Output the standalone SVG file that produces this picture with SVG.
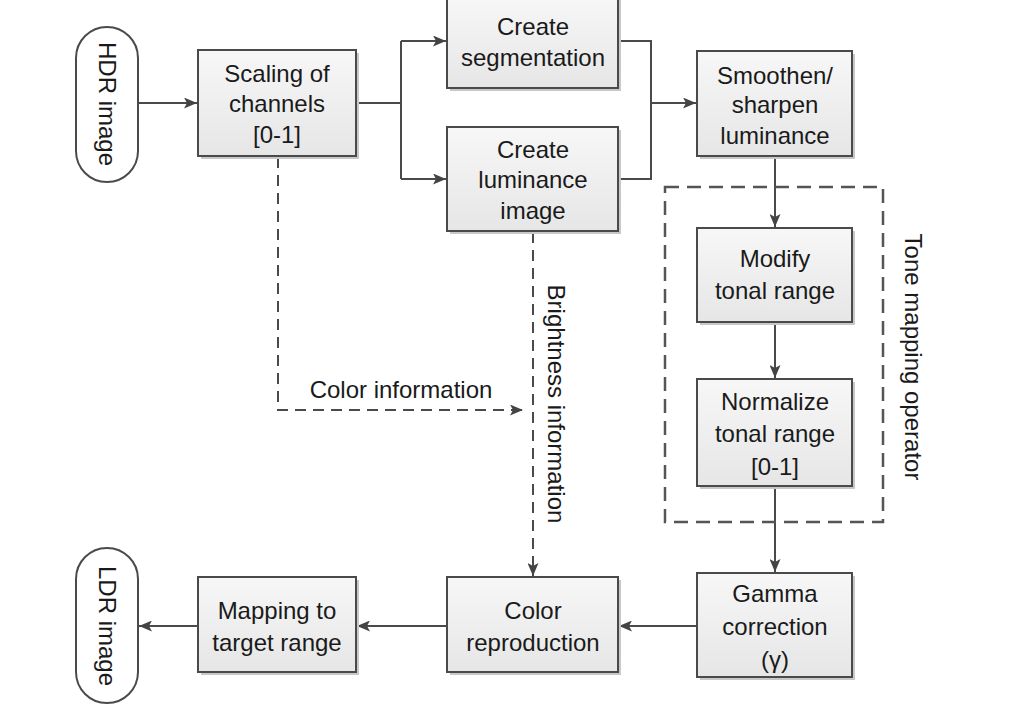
<svg xmlns="http://www.w3.org/2000/svg" width="1024" height="725" viewBox="0 0 1024 725">
<style>
.box{fill:url(#g);stroke:#4a4a4a;stroke-width:2}
.sh{fill:#c8c8c8}
.t{font-family:"Liberation Sans",Arial,sans-serif;font-size:24px;fill:#1a1a1a;text-anchor:middle;dominant-baseline:central}
.ln{fill:none;stroke:#4a4a4a;stroke-width:2}
.ds{fill:none;stroke:#4a4a4a;stroke-width:2;stroke-dasharray:11 7}
.dsb{fill:none;stroke:#555;stroke-width:2.5;stroke-dasharray:14 8}
</style>
<defs>
<linearGradient id="g" x1="0" y1="0" x2="0" y2="1">
<stop offset="0" stop-color="#f7f7f7"/>
<stop offset="1" stop-color="#e6e6e6"/>
</linearGradient>
<marker id="a" viewBox="0 0 13 11" refX="13" refY="5.5" markerWidth="13" markerHeight="11" markerUnits="userSpaceOnUse" orient="auto">
<path d="M0,0 L13,5.5 L0,11 L3,5.5 z" fill="#444"/>
</marker>
</defs>
<rect width="1024" height="725" fill="#fff"/>
<g id="connectors">
<path class="ln" d="M138,103 H197" marker-end="url(#a)"/>
<path class="ln" d="M356,103 H401 M401,41 V179"/>
<path class="ln" d="M401,41 H446" marker-end="url(#a)"/>
<path class="ln" d="M401,179 H446" marker-end="url(#a)"/>
<path class="ln" d="M618,41 H651 V179 H618 M651,103 H696"/>
<path class="ln" d="M651,103 H696" marker-end="url(#a)"/>
<path class="ln" d="M775,156 V227" marker-end="url(#a)"/>
<path class="ln" d="M775,322 V378" marker-end="url(#a)"/>
<path class="ln" d="M775,486 V572" marker-end="url(#a)"/>
<path class="ln" d="M697,626 H619" marker-end="url(#a)"/>
<path class="ln" d="M447,626 H357" marker-end="url(#a)"/>
<path class="ln" d="M198,626 H139" marker-end="url(#a)"/>
<path class="ds" d="M278,157 V410 H523" marker-end="url(#a)"/>
<path class="ds" d="M533,232 V576" marker-end="url(#a)"/>
</g>
<g id="tone-mapping-group">
<rect class="dsb" x="665" y="187" width="218" height="335"/>
<text class="t" transform="translate(913,357) rotate(90)">Tone mapping operator</text>
</g>
<g id="hdr">
<rect x="76" y="27" width="62" height="155" rx="31" fill="#fff" stroke="#4a4a4a" stroke-width="2"/>
<text class="t" transform="translate(107,104) rotate(90)">HDR image</text>
</g>
<g id="scaling">
<rect class="sh" x="201" y="53" width="158" height="106"/>
<rect class="box" x="198" y="50" width="158" height="106"/>
<text class="t" x="277" y="73">Scaling of</text>
<text class="t" x="277" y="103">channels</text>
<text class="t" x="277" y="134">[0-1]</text>
</g>
<g id="segmentation">
<rect class="sh" x="450" y="-1" width="171" height="92"/>
<rect class="box" x="447" y="-4" width="171" height="92"/>
<text class="t" x="533" y="26">Create</text>
<text class="t" x="533" y="57">segmentation</text>
</g>
<g id="luminance">
<rect class="sh" x="450" y="130" width="171" height="104"/>
<rect class="box" x="447" y="127" width="171" height="104"/>
<text class="t" x="533" y="149">Create</text>
<text class="t" x="533" y="179">luminance</text>
<text class="t" x="533" y="210">image</text>
</g>
<g id="smoothen">
<rect class="sh" x="700" y="54" width="155" height="105"/>
<rect class="box" x="697" y="51" width="155" height="105"/>
<text class="t" x="775" y="75">Smoothen/</text>
<text class="t" x="775" y="104">sharpen</text>
<text class="t" x="775" y="135">luminance</text>
</g>
<g id="modify">
<rect class="sh" x="700" y="231" width="155" height="94"/>
<rect class="box" x="697" y="228" width="155" height="94"/>
<text class="t" x="775" y="258">Modify</text>
<text class="t" x="775" y="290">tonal range</text>
</g>
<g id="normalize">
<rect class="sh" x="700" y="382" width="155" height="107"/>
<rect class="box" x="697" y="379" width="155" height="107"/>
<text class="t" x="775" y="401">Normalize</text>
<text class="t" x="775" y="433">tonal range</text>
<text class="t" x="775" y="466">[0-1]</text>
</g>
<g id="gamma">
<rect class="sh" x="700" y="576" width="155" height="104"/>
<rect class="box" x="697" y="573" width="155" height="104"/>
<text class="t" x="775" y="593">Gamma</text>
<text class="t" x="775" y="626">correction</text>
<text class="t" x="775" y="659">(γ)</text>
</g>
<g id="color-reproduction">
<rect class="sh" x="450" y="580" width="171" height="95"/>
<rect class="box" x="447" y="577" width="171" height="95"/>
<text class="t" x="533" y="610">Color</text>
<text class="t" x="533" y="642">reproduction</text>
</g>
<g id="mapping">
<rect class="sh" x="201" y="580" width="158" height="95"/>
<rect class="box" x="198" y="577" width="158" height="95"/>
<text class="t" x="277" y="610">Mapping to</text>
<text class="t" x="277" y="642">target range</text>
</g>
<g id="ldr">
<rect x="76" y="548" width="62" height="155" rx="31" fill="#fff" stroke="#4a4a4a" stroke-width="2"/>
<text class="t" transform="translate(107,626) rotate(90)">LDR image</text>
</g>
<g id="labels">
<text class="t" x="401" y="389">Color information</text>
<text class="t" transform="translate(556,404) rotate(90)">Brightness information</text>
</g>
</svg>
